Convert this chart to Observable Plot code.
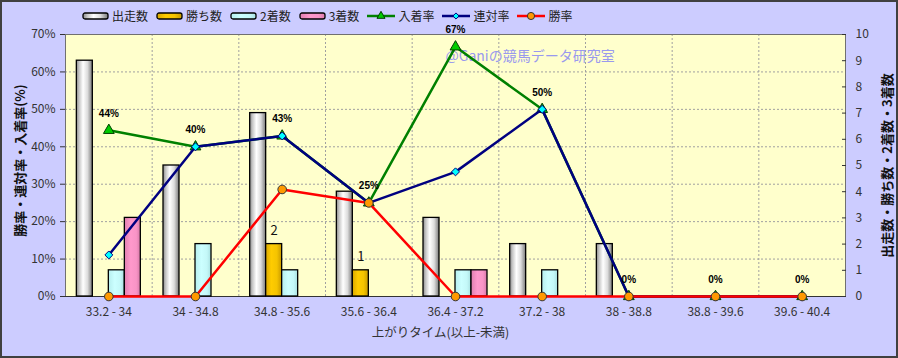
<!DOCTYPE html>
<html><head><meta charset="utf-8">
<script src="https://cdn.jsdelivr.net/npm/d3@7"></script>
<script src="https://cdn.jsdelivr.net/npm/@observablehq/plot@0.6"></script>
<style>
body{margin:0;background:#fff;}
#wrap{position:relative;width:898px;height:358px;background:#CCCCFF;overflow:hidden;font-family:"Noto Sans CJK JP",sans-serif;}
#border{position:absolute;left:0;top:0;right:0;bottom:0;border:2px solid #404040;pointer-events:none;box-sizing:border-box;}
#legend{position:absolute;left:82px;top:7px;display:flex;align-items:center;font-size:12px;color:#222;line-height:18px;}
.item{display:flex;align-items:center;margin-right:8px;}
.item svg{margin-right:3px;display:block;}
</style></head><body>
<div id="wrap"><div id="legend"></div><div id="border"></div></div>
<script>
// ---- data ----
const categories = ["33.2 - 34","34 - 34.8","34.8 - 35.6","35.6 - 36.4","36.4 - 37.2","37.2 - 38","38 - 38.8","38.8 - 39.6","39.6 - 40.4"];
const starts  = [9,5,7,4,3,2,2,0,0];
const wins    = [0,0,2,1,0,0,0,0,0];
const seconds = [1,2,1,0,1,1,0,0,0];
const thirds  = [3,0,0,0,1,0,0,0,0];
const placeRate  = [44.4,40.0,42.9,25.0,66.7,50.0,0,0,0];
const rentaiRate = [11.1,40.0,42.9,25.0,33.3,50.0,0,0,0];
const winRate    = [0,0,28.6,25.0,0,0,0,0,0];
const placeLabels = ["44%","40%","43%","25%","67%","50%","0%","0%","0%"];
const leftTicks = [0,10,20,30,40,50,60,70];
const rightTicks = [0,1,2,3,4,5,6,7,8,9,10];

const rows = categories.map((c,i)=>({cat:c, starts:starts[i], wins:wins[i], seconds:seconds[i], thirds:thirds[i],
  place:placeRate[i], rentai:rentaiRate[i], win:winRate[i], label:placeLabels[i]}));

const W=898,H=358,mL=65,mR=53,mT=34,mB=62;
const band=(W-mL-mR)/categories.length;
const barW=16, groupPad=(band-4*barW)/2;
const K=7; // 10 counts == 70%
const series=[
  {key:"starts",grad:"gStart",name:"出走数"},
  {key:"wins",grad:"gWin",name:"勝ち数"},
  {key:"seconds",grad:"gSecond",name:"2着数"},
  {key:"thirds",grad:"gThird",name:"3着数"}];
const font = "Noto Sans CJK JP";

const barMarks = series.map((s,k)=>Plot.barY(rows.filter(d=>d[s.key]>0), {
  x:"cat", y:d=>d[s.key]*K, fill:`url(#${s.grad})`, stroke:"#000", strokeWidth:1.3,
  insetLeft: groupPad+k*barW, insetRight: band-groupPad-(k+1)*barW}));

const chart = Plot.plot({
  width:W, height:H, marginLeft:mL, marginRight:mR, marginTop:mT, marginBottom:mB,
  style:{background:"transparent", fontFamily:font, fontSize:"12px", color:"#333", overflow:"visible"},
  x:{type:"band", domain:categories, padding:0, round:false},
  y:{domain:[0,70]},
  marks:[
    Plot.frame({fill:"#FFFFCC", stroke:null}),
    Plot.gridY({ticks:leftTicks.slice(1,-1), stroke:"#a0a0a0", strokeOpacity:1, strokeDasharray:"2,2"}),
    Plot.ruleX(categories.slice(1), {x:d=>d, dx:-band/2, stroke:"#a0a0a0", strokeDasharray:"2,2"}),
    Plot.frame({stroke:"#707070"}),
    Plot.ruleY([0], {stroke:"#333", strokeWidth:1.2}),
    Plot.axisY({anchor:"left", ticks:leftTicks, tickFormat:d=>d+"%", tickSize:5, tickPadding:5, label:null, fill:"#333", fontSize:12}),
    Plot.axisY({anchor:"right", ticks:rightTicks.map(v=>v*K), tickFormat:d=>String(Math.round(d/K)), tickSize:-4, tickPadding:14, label:null, fill:"#333", fontSize:12}),
    Plot.axisX({tickSize:0, tickPadding:11, label:null, fill:"#333", fontSize:12}),
    Plot.text(["勝率・連対率・入着率(%)"], {text:d=>d, frameAnchor:"left", textAnchor:"middle", dx:-45, dy:-5, rotate:-90, fontWeight:"bold", fontSize:13, fill:"#111"}),
    Plot.text(["出走数・勝ち数・2着数・3着数"], {text:d=>d, frameAnchor:"right", textAnchor:"middle", dx:42, rotate:-90, fontWeight:"bold", fontSize:13, fill:"#111"}),
    Plot.text(["上がりタイム(以上-未満)"], {text:d=>d, frameAnchor:"bottom", dy:40, dx:-15, fontSize:12.5, fill:"#333"}),
    ...barMarks,
    Plot.text(rows.filter(d=>d.wins>0), {x:"cat", y:d=>d.wins*K, text:d=>String(d.wins), dx:groupPad+1.5*barW-band/2, dy:-13, fontSize:13, fill:"#111"}),
    Plot.text(["@Ganiの競馬データ研究室"], {text:d=>d, frameAnchor:"top-left", dx:445-mL, dy:17, textAnchor:"start", fill:"#9999EE", fontSize:14}),
    Plot.line(rows, {x:"cat", y:"place", stroke:"#008000", strokeWidth:2.5}),
    Plot.dot(rows, {x:"cat", y:"place", symbol:"triangle", r:4, fill:"#00CC00", stroke:"#004000", strokeWidth:1}),
    Plot.line(rows, {x:"cat", y:"rentai", stroke:"#000080", strokeWidth:2.5}),
    Plot.dot(rows, {x:"cat", y:"rentai", symbol:"diamond2", r:3.6, fill:"#00FFFF", stroke:"#000080", strokeWidth:1}),
    Plot.line(rows, {x:"cat", y:"win", stroke:"#FF0000", strokeWidth:2.5}),
    Plot.dot(rows, {x:"cat", y:"win", symbol:"circle", r:4.3, fill:"#FF9900", stroke:"#333", strokeWidth:1}),
    Plot.text(rows, {x:"cat", y:"place", text:"label", dy:-17, fontWeight:"bold", fontSize:10, fontFamily:"Liberation Sans", fill:"#000"})
  ]
});

const wrap = document.getElementById("wrap");
wrap.insertBefore(chart, wrap.firstChild);
chart.style.position="absolute"; chart.style.left="0"; chart.style.top="0";

// gradients
const defs = d3.select(chart).insert("defs", ":first-child");
function grad(id, stops){
  const g = defs.append("linearGradient").attr("id",id).attr("x1","0").attr("x2","1").attr("y1","0").attr("y2","0");
  stops.forEach(([o,c])=>g.append("stop").attr("offset",o).attr("stop-color",c));
}
grad("gStart",[[0,"#8a8a8a"],[0.18,"#c8c8c8"],[0.42,"#ffffff"],[0.7,"#dcdcdc"],[1,"#7a7a7a"]]);
grad("gWin",[[0,"#d9a800"],[0.35,"#ffcc00"],[0.7,"#f5c400"],[1,"#c89a00"]]);
grad("gSecond",[[0,"#b6eeee"],[0.4,"#ccffff"],[0.75,"#c4f8f8"],[1,"#a8e0e0"]]);
grad("gThird",[[0,"#e07fb0"],[0.4,"#ff99cc"],[0.75,"#f894c6"],[1,"#d878a8"]]);

// legend
const legend = d3.select("#legend");
series.forEach(s=>{
  const it = legend.append("div").attr("class","item");
  const sv = it.append("svg").attr("width",27).attr("height",10);
  sv.append("rect").attr("x",1).attr("y",2).attr("width",25).attr("height",6).attr("rx",2)
    .attr("fill",`url(#${s.grad})`).attr("stroke","#000").attr("stroke-width",1.3);
  it.append("span").text(s.name);
});
const lineSeries=[
  {name:"入着率", stroke:"#008000", sym:"triangle", fill:"#00CC00", ms:"#004000"},
  {name:"連対率", stroke:"#000080", sym:"diamond", fill:"#00FFFF", ms:"#000080"},
  {name:"勝率", stroke:"#FF0000", sym:"circle", fill:"#FF9900", ms:"#333"}];
lineSeries.forEach(s=>{
  const it = legend.append("div").attr("class","item");
  const sv = it.append("svg").attr("width",28).attr("height",12);
  sv.append("line").attr("x1",0).attr("x2",28).attr("y1",6).attr("y2",6).attr("stroke",s.stroke).attr("stroke-width",2.5);
  let p;
  if(s.sym==="triangle") p = d3.symbol(d3.symbolTriangle, 28)();
  else if(s.sym==="diamond") p = d3.symbol(d3.symbolDiamond2, 24)();
  else p = d3.symbol(d3.symbolCircle, 40)();
  sv.append("path").attr("d",p).attr("transform","translate(14,6)").attr("fill",s.fill).attr("stroke",s.ms).attr("stroke-width",1);
  it.append("span").text(s.name);
});
</script>
</body></html>
